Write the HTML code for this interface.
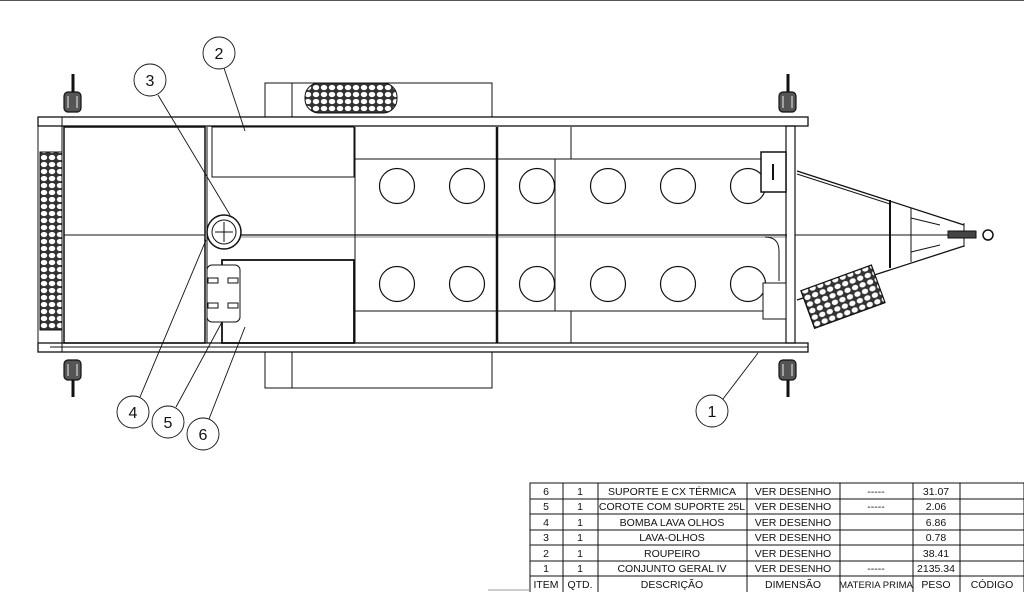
<!DOCTYPE html>
<html><head><meta charset="utf-8"><style>
html,body{margin:0;padding:0;background:#fff;width:1024px;height:592px;overflow:hidden}
svg{display:block}
text{font-family:"Liberation Sans",sans-serif}
</style></head><body>
<svg width="1024" height="592" viewBox="0 0 1024 592" xmlns="http://www.w3.org/2000/svg">
<defs>
<pattern id="mesh" width="8" height="7" patternUnits="userSpaceOnUse">
<rect width="8" height="7" fill="#333"/>
<ellipse cx="4" cy="3.5" rx="3.2" ry="2.6" fill="#fff"/>
</pattern>
</defs>
<line x1="0" y1="0.5" x2="1024" y2="0.5" stroke="#555"/>
<g fill="none" stroke="#111" stroke-width="1">
<rect x="265" y="83" width="227" height="34"/>
<rect x="265" y="352" width="227" height="36"/>
<line x1="292" y1="83" x2="292" y2="117"/><line x1="292" y1="352" x2="292" y2="388"/>
<rect x="305" y="83" width="92" height="30" rx="14" fill="url(#mesh)"/>
<rect x="38" y="117" width="770" height="9" stroke-width="1.3"/>
<rect x="38" y="343" width="770" height="9" stroke-width="1.3"/>
<line x1="50" y1="347" x2="808" y2="347"/>
<rect x="38" y="117" width="24" height="235"/>
<rect x="40" y="152" width="22" height="178" fill="url(#mesh)"/>
<rect x="64" y="127" width="141" height="216" stroke-width="1.5"/>
<line x1="64" y1="235" x2="205" y2="235"/>
<line x1="207" y1="127" x2="207" y2="343"/>
<line x1="207" y1="235" x2="787" y2="235" stroke-width="1.3"/>
<line x1="207" y1="237" x2="787" y2="237" stroke-width="0.6"/>
<rect x="212" y="127" width="142" height="50"/>
<line x1="355" y1="127" x2="355" y2="343"/>
<line x1="355" y1="159" x2="785" y2="159"/>
<line x1="355" y1="311" x2="785" y2="311"/>
<line x1="497" y1="127" x2="497" y2="343" stroke-width="2.5"/>
<line x1="571" y1="127" x2="571" y2="159"/>
<line x1="571" y1="311" x2="571" y2="343"/>
<line x1="555" y1="159" x2="555" y2="311"/>
<rect x="786" y="126" width="9" height="217" stroke-width="1.2"/>
<g stroke-width="1.2">
<circle cx="397" cy="186" r="17.5"/><circle cx="467" cy="186" r="17.5"/><circle cx="537" cy="186" r="17.5"/>
<circle cx="608" cy="186" r="17.5"/><circle cx="678" cy="186" r="17.5"/><circle cx="748" cy="186" r="17.5"/>
<circle cx="397" cy="284" r="17.5"/><circle cx="467" cy="284" r="17.5"/><circle cx="537" cy="284" r="17.5"/>
<circle cx="608" cy="284" r="17.5"/><circle cx="678" cy="284" r="17.5"/><circle cx="748" cy="284" r="17.5"/>
</g>
<rect x="761" y="152" width="25" height="40" fill="#fff" stroke-width="1.5"/>
<line x1="773" y1="164" x2="773" y2="180" stroke-width="2"/>
<rect x="763" y="283" width="23" height="36" fill="#fff"/>
<path d="M765 237 q14 0 14 14 v30" />
<rect x="222" y="260" width="132" height="83" stroke-width="1.8"/>
<rect x="207" y="265" width="33" height="57" rx="5" fill="#fff"/>
<rect x="208" y="278" width="10" height="5"/><rect x="228" y="278" width="10" height="5"/>
<rect x="208" y="303" width="10" height="5"/><rect x="228" y="303" width="10" height="5"/>
<circle cx="224" cy="232" r="17" stroke-width="1.5" fill="#fff"/>
<circle cx="224" cy="232" r="12"/>
<line x1="215" y1="232" x2="233" y2="232"/><line x1="224" y1="222" x2="224" y2="242"/>
<line x1="797" y1="171" x2="964" y2="225" stroke-width="1.3"/>
<line x1="797" y1="174" x2="890" y2="204"/>
<line x1="797" y1="300" x2="964" y2="246" stroke-width="1.3"/>
<line x1="795" y1="235" x2="970" y2="235"/>
<line x1="890" y1="200" x2="890" y2="268" stroke-width="2"/>
<line x1="911" y1="208" x2="911" y2="262"/>
<line x1="911" y1="218" x2="940" y2="225"/><line x1="911" y1="252" x2="940" y2="245"/>
<line x1="964" y1="223" x2="964" y2="247"/>
<rect x="948" y="231" width="28" height="7" fill="#444"/>
<circle cx="988" cy="235" r="5" stroke-width="1.5"/>
<g transform="translate(805,302) rotate(-20)"><rect x="0" y="-12" width="75" height="40" fill="url(#mesh)" stroke-width="1.2"/></g>
<g fill="#555" stroke-width="1.2">
<rect x="64" y="92" width="17" height="20" rx="4"/><rect x="64" y="360" width="17" height="20" rx="4"/>
<rect x="779" y="92" width="17" height="20" rx="4"/><rect x="779" y="360" width="17" height="20" rx="4"/>
</g>
<g stroke="#eee" stroke-width="1">
<line x1="68" y1="96" x2="68" y2="108"/><line x1="77" y1="96" x2="77" y2="108"/>
<line x1="68" y1="364" x2="68" y2="376"/><line x1="77" y1="364" x2="77" y2="376"/>
<line x1="783" y1="96" x2="783" y2="108"/><line x1="792" y1="96" x2="792" y2="108"/>
<line x1="783" y1="364" x2="783" y2="376"/><line x1="792" y1="364" x2="792" y2="376"/>
</g>
<g stroke-width="3">
<line x1="73" y1="74" x2="73" y2="92"/><line x1="73" y1="380" x2="73" y2="397"/>
<line x1="788" y1="74" x2="788" y2="92"/><line x1="788" y1="380" x2="788" y2="397"/>
</g>
<g stroke-width="0.9">
<circle cx="219" cy="53" r="16"/><line x1="224" y1="68" x2="245" y2="131"/>
<circle cx="150" cy="80" r="16"/><line x1="158" y1="95" x2="230" y2="215"/>
<circle cx="133" cy="412" r="16"/><line x1="140" y1="397" x2="206" y2="240"/>
<circle cx="168" cy="422" r="16"/><line x1="176" y1="407" x2="222" y2="322"/>
<circle cx="203" cy="434" r="16"/><line x1="209" y1="419" x2="245" y2="327"/>
<circle cx="712" cy="411" r="16"/><line x1="723" y1="399" x2="758" y2="353"/>
</g>
</g>
<g font-size="16" text-anchor="middle" fill="#111">
<text x="219" y="59">2</text><text x="150" y="86">3</text><text x="133" y="418">4</text>
<text x="168" y="428">5</text><text x="203" y="440">6</text><text x="712" y="417">1</text>
</g>
<g stroke="#111" stroke-width="1" fill="none">
<rect x="530" y="483" width="494" height="110"/>
<line x1="530" y1="499" x2="1024" y2="499"/><line x1="530" y1="514" x2="1024" y2="514"/>
<line x1="530" y1="530" x2="1024" y2="530"/><line x1="530" y1="545" x2="1024" y2="545"/>
<line x1="530" y1="561" x2="1024" y2="561"/><line x1="530" y1="576" x2="1024" y2="576"/>
<line x1="563" y1="483" x2="563" y2="592"/><line x1="598" y1="483" x2="598" y2="592"/>
<line x1="747" y1="483" x2="747" y2="592"/><line x1="840" y1="483" x2="840" y2="592"/>
<line x1="913" y1="483" x2="913" y2="592"/><line x1="960" y1="483" x2="960" y2="592"/>
<line x1="488" y1="590" x2="530" y2="590" stroke="#999"/>
</g>
<g font-size="10.5" text-anchor="middle" fill="#111">
<text x="546" y="495">6</text><text x="580" y="495">1</text><text x="672" y="495">SUPORTE E CX TÉRMICA</text><text x="793" y="495">VER DESENHO</text><text x="876" y="495">-----</text><text x="936" y="495">31.07</text>
<text x="546" y="510">5</text><text x="580" y="510">1</text><text x="672" y="510">COROTE COM SUPORTE 25L</text><text x="793" y="510">VER DESENHO</text><text x="876" y="510">-----</text><text x="936" y="510">2.06</text>
<text x="546" y="526">4</text><text x="580" y="526">1</text><text x="672" y="526">BOMBA LAVA OLHOS</text><text x="793" y="526">VER DESENHO</text><text x="936" y="526">6.86</text>
<text x="546" y="541">3</text><text x="580" y="541">1</text><text x="672" y="541">LAVA-OLHOS</text><text x="793" y="541">VER DESENHO</text><text x="936" y="541">0.78</text>
<text x="546" y="557">2</text><text x="580" y="557">1</text><text x="672" y="557">ROUPEIRO</text><text x="793" y="557">VER DESENHO</text><text x="936" y="557">38.41</text>
<text x="546" y="572">1</text><text x="580" y="572">1</text><text x="672" y="572">CONJUNTO GERAL IV</text><text x="793" y="572">VER DESENHO</text><text x="876" y="572">-----</text><text x="936" y="572">2135.34</text>
<text x="546" y="588">ITEM</text><text x="580" y="588">QTD.</text><text x="672" y="588">DESCRIÇÃO</text><text x="793" y="588">DIMENSÃO</text><text x="876" y="588" font-size="9.5">MATERIA PRIMA</text><text x="936" y="588">PESO</text><text x="992" y="588">CÓDIGO</text>
</g>
</svg>
</body></html>
